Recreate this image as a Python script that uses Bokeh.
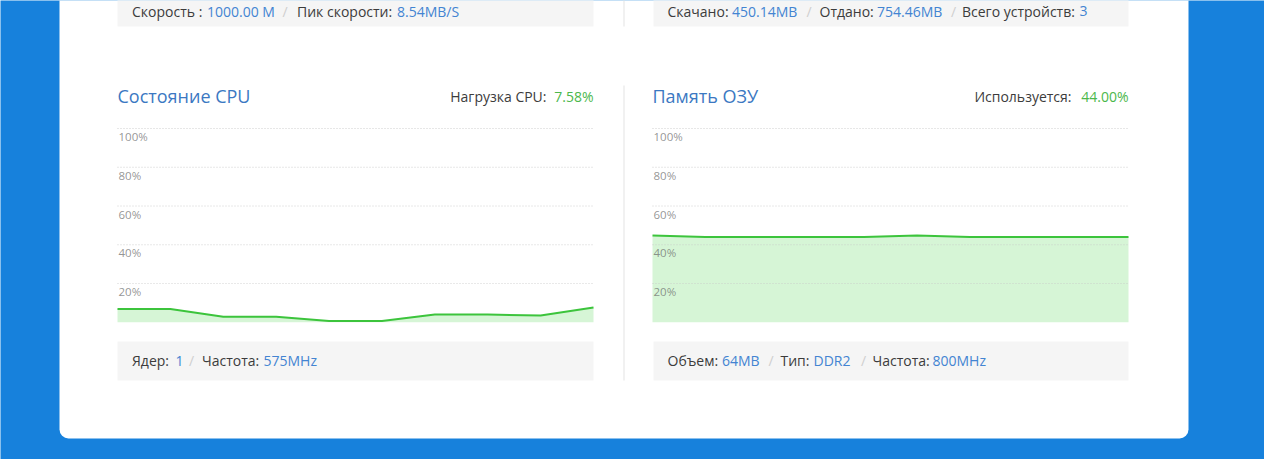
from bokeh.plotting import figure
from bokeh.models import Range1d
from bokeh.core.properties import value
from bokeh.embed import file_html
from bokeh.resources import INLINE

# ---------------- data ----------------
samples = list(range(10))
cpu_load = [6.9, 6.9, 2.9, 2.9, 0.7, 0.7, 4.0, 4.0, 3.5, 7.58]
mem_used = [44.8, 44.0, 44.0, 44.0, 44.0, 44.8, 44.0, 44.0, 44.0, 44.0]
y_ticks = [20, 40, 60, 80, 100]
y_tick_labels = ["20%", "40%", "60%", "80%", "100%"]

cpu_title = "Состояние CPU"
cpu_stat_label = "Нагрузка CPU:"
cpu_stat_value = "7.58%"
mem_title = "Память ОЗУ"
mem_stat_label = "Используется:"
mem_stat_value = "44.00%"

net_left_texts = ["Скорость : ", "1000.00 M", "/", "Пик скорости: ", "8.54MB/S"]
net_right_texts = ["Скачано: ", "450.14MB", "/", "Отдано: ", "754.46MB", "/", "Всего устройств: ", "3"]
cpu_info_texts = ["Ядер: ", "1", "/", "Частота: ", "575MHz"]
mem_info_texts = ["Объем: ", "64MB", "/", "Тип: ", "DDR2", "/", "Частота: ", "800MHz"]

# ---------------- layout / style ----------------
W, H = 1264, 459
FONT = value("Open Sans")
BLUE_BG = "#1781dc"
DARK = "#3c3c3c"
VAL = "#4384d2"
SLASH = "#cfcfcf"
TITLE = "#3b78c2"
GREEN_TXT = "#4cb84c"
LINE_GREEN = "#3cc43c"
FILL_GREEN = "#d6f5d6"
BAR_BG = "#f5f5f5"


def fx(rx):
    return rx


def fy(ry):
    return H - ry


p = figure(width=W, height=H, output_backend="svg", toolbar_location=None,
           x_range=Range1d(0, W), y_range=Range1d(0, H), min_border=0)
p.axis.visible = False
p.grid.visible = False
p.outline_line_color = None
p.background_fill_color = BLUE_BG
p.border_fill_color = BLUE_BG

# chart ranges (index / percent) mapped onto the frame
px_x = 476 / 9
px_y = (321.8 - 128) / 100
zero_from_bottom = fy(321.8)
p.extra_x_ranges = {
    "cpu_x": Range1d(-fx(117) / px_x, (W - fx(117)) / px_x),
    "mem_x": Range1d(-fx(652) / px_x, (W - fx(652)) / px_x),
}
p.extra_y_ranges = {"pct": Range1d(-zero_from_bottom / px_y, (H - zero_from_bottom) / px_y)}

# white card
p.quad(left=[fx(59)], right=[fx(1188)], bottom=[fy(438)], top=[fy(-40)],
       fill_color="white", line_color=None, border_radius=9)

# info bars
p.quad(left=[fx(117), fx(653), fx(117), fx(653)], right=[fx(593), fx(1128), fx(593), fx(1128)],
       bottom=[fy(26), fy(26), fy(380), fy(380)], top=[fy(-20), fy(-20), fy(341), fy(341)],
       fill_color=BAR_BG, line_color=None)

# dividers
p.segment(x0=[fx(623.5)] * 2, x1=[fx(623.5)] * 2, y0=[fy(-10), fy(85)], y1=[fy(26), fy(380)],
          line_color="#e3e3e3", line_width=1)

# charts
for xr, vals in (("cpu_x", cpu_load), ("mem_x", mem_used)):
    p.varea(x=samples, y1=[0] * len(samples), y2=vals, fill_color=FILL_GREEN,
            x_range_name=xr, y_range_name="pct")
    p.line(x=samples, y=vals, line_color=LINE_GREEN, line_width=2,
           x_range_name=xr, y_range_name="pct")
    p.segment(x0=[samples[0]] * len(y_ticks), x1=[samples[-1]] * len(y_ticks), y0=y_ticks, y1=y_ticks,
              line_color="#c4c4c4", line_alpha=0.8, line_dash="1 2", line_width=1,
              x_range_name=xr, y_range_name="pct")
    p.text(x=[samples[0]] * len(y_ticks), y=y_ticks, text=y_tick_labels, x_offset=1, y_offset=0.5,
           text_align="left", text_baseline="top", text_font=FONT, text_font_size="11.5px",
           text_color="#666666", text_alpha=0.7, x_range_name=xr, y_range_name="pct")


def put(texts, xs, ry, colors, size="14px", align="left"):
    p.text(x=[fx(v) for v in xs], y=[fy(ry)] * len(texts), text=texts, text_align=align,
           text_baseline="middle", text_font=FONT, text_font_size=size, text_color=colors)


# titles and stats
put([cpu_title], [117], 95.5, [TITLE], size="18px")
put([mem_title], [652], 95.5, [TITLE], size="18px")
put([cpu_stat_label], [546], 96, [DARK], size="14px", align="right")
put([cpu_stat_value], [593], 96, [GREEN_TXT], size="14px", align="right")
put([mem_stat_label], [1071], 96, [DARK], size="14px", align="right")
put([mem_stat_value], [1128], 96, [GREEN_TXT], size="14px", align="right")

# info texts
put(net_left_texts, [131.5, 206.5, 282, 296.5, 396.5], 10.5, [DARK, VAL, SLASH, DARK, VAL])
put(net_right_texts, [667, 731.5, 806, 819, 876.5, 950.5, 961.5, 1079], 10.5,
    [DARK, VAL, SLASH, DARK, VAL, SLASH, DARK, VAL])
put(cpu_info_texts, [131.5, 175, 188.5, 201.5, 263], 360, [DARK, VAL, SLASH, DARK, VAL])
put(mem_info_texts, [667, 721.5, 768, 780, 813, 860.5, 872, 932], 360,
    [DARK, VAL, SLASH, DARK, VAL, SLASH, DARK, VAL])

open("out.html", "w").write(file_html(p, INLINE))
